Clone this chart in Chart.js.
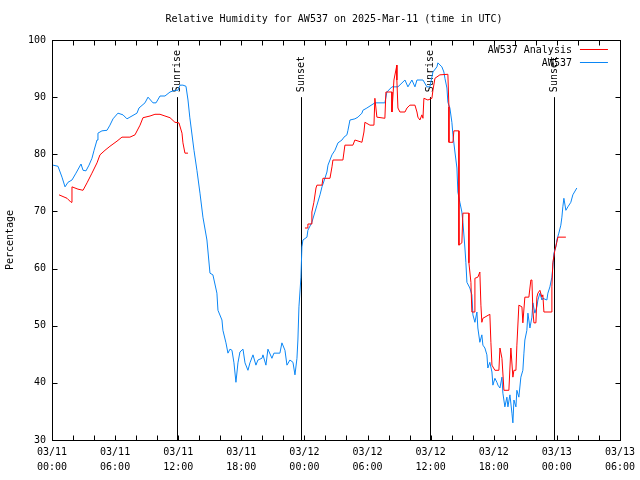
<!DOCTYPE html>
<html lang="en">
  <head>
    <meta charset="UTF-8" />
    <title>Relative Humidity for AW537</title>
    <script src="https://cdn.jsdelivr.net/npm/chart.js@4.4.1/dist/chart.umd.min.js"></script>
    <style>
      body { margin: 0; background: #fff; }
    </style>
  </head>
  <body>
    <canvas id="myChart" width="640" height="480"></canvas>

    <script>
    // hours since 03/11 00:00 UTC
    const obsHours = [0.1, 0.57, 0.95, 1.24, 1.52, 1.9, 2.28, 2.76, 2.95, 3.23, 3.52, 3.8, 4.0, 4.28, 4.37, 4.75, 5.23, 5.51, 5.8, 6.27,
      6.75, 7.13, 7.41, 8.08, 8.27, 8.84, 9.13, 9.6, 9.89, 10.27, 10.74, 11.22, 11.69, 11.98, 12.17, 12.45, 12.74, 12.93, 13.1, 13.5,
      13.78, 14.07, 14.35, 14.73, 15.02, 15.3, 15.68, 15.78, 16.16, 16.25, 16.54, 16.73, 16.92, 17.11, 17.3, 17.49, 17.68, 17.87, 18.16, 18.35,
      18.63, 18.82, 19.11, 19.39, 19.58, 19.96, 20.06, 20.34, 20.53, 20.91, 21.1, 21.67, 21.86, 22.15, 22.34, 22.62, 22.91, 23.1, 23.29, 23.38,
      23.48, 23.67, 23.76, 23.86, 24.24, 24.33, 24.71, 25.0, 25.19, 25.48, 25.67, 25.95, 26.14, 26.24, 26.62, 26.9, 27.19, 27.57, 27.76, 28.04,
      28.14, 28.33, 28.8, 29.09, 29.47, 29.56, 29.94, 30.7, 31.65, 31.84, 32.32, 32.89, 33.56, 33.84, 34.22, 34.51, 34.7, 35.27, 35.65, 35.93,
      36.22, 36.6, 36.69, 37.07, 37.26, 37.36, 37.55, 37.64, 37.83, 38.02, 38.12, 38.31, 38.5, 38.59, 38.78, 38.97, 39.07, 39.26, 39.35, 39.45,
      39.73, 39.92, 40.02, 40.21, 40.4, 40.49, 40.68, 40.87, 40.97, 41.16, 41.35, 41.44, 41.63, 41.83, 41.92, 42.11, 42.3, 42.4, 42.59, 42.78,
      42.87, 43.06, 43.25, 43.35, 43.54, 43.73, 43.82, 43.92, 44.11, 44.2, 44.39, 44.58, 44.77, 44.87, 44.96, 45.15, 45.25, 45.44, 45.63, 45.72,
      45.91, 46.1, 46.2, 46.39, 46.58, 46.67, 47.05, 47.15, 47.34, 47.53, 47.62, 47.72, 47.91, 48.0, 48.19, 48.38, 48.48, 48.57, 48.67, 48.86,
      49.05, 49.33, 49.52, 49.9];
    const obsValues = [78.1, 77.9, 76.0, 74.3, 75.1, 75.5, 76.7, 78.3, 77.2, 77.1, 78.1, 79.3, 80.7, 82.5, 83.7, 84.1, 84.2, 85.1, 86.2, 87.2,
      86.9, 86.2, 86.5, 87.2, 88.1, 89.0, 90.0, 89.0, 89.0, 90.2, 90.2, 90.9, 91.2, 91.2, 92.1, 92.1, 91.9, 89.5, 86.5, 80.7,
      77.2, 73.2, 69.0, 65.0, 59.2, 58.9, 55.7, 52.7, 51.0, 49.2, 47.0, 45.2, 45.9, 45.7, 43.5, 40.1, 43.5, 45.4, 45.9, 43.5,
      42.2, 43.5, 44.9, 43.1, 44.0, 44.3, 44.9, 43.1, 45.9, 44.3, 45.2, 45.2, 47.0, 45.7, 43.1, 44.0, 43.6, 41.4, 44.3, 47.5,
      53.3, 58.5, 63.8, 65.0, 65.5, 66.7, 68.1, 69.9, 71.1, 72.9, 74.3, 75.8, 76.9, 78.1, 79.9, 80.7, 82.0, 82.5, 83.0, 83.4,
      84.2, 86.0, 86.2, 86.5, 87.2, 87.7, 88.1, 89.0, 89.0, 90.9, 91.8, 91.8, 93.0, 91.8, 93.0, 91.8, 93.0, 93.0, 91.8, 91.8,
      94.4, 95.3, 96.0, 95.3, 94.4, 93.3, 91.6, 89.1, 88.1, 85.6, 83.4, 80.4, 77.6, 73.4, 71.6, 69.9, 68.1, 63.6, 61.1, 57.6,
      56.6, 55.4, 51.9, 50.6, 52.4, 49.6, 47.1, 48.4, 46.6, 46.1, 44.9, 42.6, 43.6, 41.9, 39.6, 40.8, 40.1, 39.6, 39.1, 41.0,
      38.2, 35.8, 37.5, 35.8, 37.9, 34.7, 33.0, 37.0, 35.8, 38.7, 37.5, 41.0, 42.2, 45.2, 47.5, 49.2, 52.2, 49.6, 51.5, 54.0,
      52.2, 53.3, 54.5, 55.7, 54.5, 54.8, 54.5, 55.7, 56.8, 58.5, 60.3, 62.7, 63.8, 65.0, 66.2, 67.6, 69.0, 70.8, 72.3, 70.2,
      70.8, 71.6, 72.9, 74.1];

    const anaHours = [0.67, 1.43, 1.81, 1.9, 2.47, 2.95, 3.33, 3.8, 4.28, 4.56, 5.04, 5.51, 6.18, 6.65, 7.41, 7.89, 8.37, 8.65, 9.32, 9.79,
      10.27, 10.74, 11.22, 11.69, 12.07, 12.36, 12.45, 12.64, 12.93, 18,
      24.05, 24.33, 24.33, 24.71, 24.71, 24.9, 25.1, 25.19, 25.67, 25.76, 26.43, 26.62, 26.71, 27.66, 27.85, 28.61, 28.8, 29.47, 29.66, 29.75,
      30.23, 30.61, 30.7, 30.89, 31.65, 31.75, 32.32, 32.32, 32.51, 32.79, 32.79, 32.89, 33.08, 33.56, 33.75, 34.03, 34.51, 34.7, 34.79, 34.98,
      35.17, 35.27, 35.36, 35.74, 36.12, 36.22, 36.41, 36.88, 37.64, 37.74, 37.74, 38.12, 38.21, 38.69, 38.69, 38.97, 39.07, 39.64, 39.64, 39.83,
      39.92, 40.21, 40.21, 40.49, 40.68, 40.78, 40.87, 40.97, 41.63, 41.73, 41.83, 42.11, 42.49, 42.59, 42.78, 42.97, 43.44, 43.63, 43.82, 43.92,
      44.11, 44.2, 44.39, 44.68, 44.77, 44.96, 45.34, 45.53, 45.63, 45.72, 45.82, 46.01, 46.1, 46.2, 46.39, 46.58, 46.67, 46.77, 47.53, 47.53,
      47.62, 47.81, 48.0, 48.1, 48.86];
    const anaValues = [72.9, 72.3, 71.6, 74.3, 73.9, 73.7, 75.0, 76.7, 78.5, 79.9, 80.7, 81.4, 82.3, 83.0, 83.0, 83.4, 85.1, 86.4, 86.7, 87.0,
      87.0, 86.7, 86.4, 85.6, 85.5, 83.7, 82.0, 80.2, 80.2, null,
      67.1, 67.1, 67.8, 67.8, 69.9, 71.6, 74.1, 74.6, 74.6, 75.8, 75.8, 77.8, 79.0, 79.0, 81.6, 81.6, 82.5, 82.1, 83.9, 85.6,
      85.1, 85.1, 89.8, 86.5, 86.3, 90.9, 90.9, 87.4, 93.0, 95.6, 93.0, 88.1, 87.4, 87.4, 88.1, 88.6, 88.6, 87.4, 86.5, 86.0,
      86.9, 86.3, 89.8, 89.5, 89.8, 91.2, 93.3, 93.9, 94.0, 88.3, 82.1, 82.1, 84.1, 84.1, 64.1, 64.5, 69.7, 69.7, 61.0, 57.6,
      52.4, 52.4, 58.3, 58.5, 59.4, 53.6, 50.6, 51.3, 52.0, 47.1, 43.1, 42.2, 42.2, 46.1, 44.3, 38.7, 38.7, 46.1, 41.0, 42.2,
      42.2, 46.6, 53.6, 53.3, 50.5, 55.0, 55.0, 58.0, 58.0, 52.7, 50.5, 50.5, 55.0, 55.7, 56.2, 55.0, 55.4, 52.4, 52.4, 56.8,
      61.0, 63.2, 64.6, 65.5, 65.5];

    const xTickLabels = [['03/11', '00:00'], ['03/11', '06:00'], ['03/11', '12:00'], ['03/11', '18:00'], ['03/12', '00:00'],
      ['03/12', '06:00'], ['03/12', '12:00'], ['03/12', '18:00'], ['03/13', '00:00'], ['03/13', '06:00']];
    const sunHours = [11.88, 23.67, 35.93, 47.72];
    const sunLabels = ['Sunrise', 'Sunset', 'Sunrise', 'Sunset'];

    const FONT = '10px "DejaVu Sans Mono", monospace';

    // gnuplot-ish decorations: frame, inward tics, sun markers, title, key
    const gnuplotLook = {
      id: 'gnuplotLook',
      beforeDatasetsDraw(chart) {
        const {ctx, chartArea: a, scales} = chart;
        ctx.save();
        ctx.strokeStyle = '#000';
        ctx.lineWidth = 1;
        ctx.fillStyle = '#000';
        ctx.font = FONT;
        const y90 = scales.y.getPixelForValue(90);
        sunHours.forEach((h, i) => {
          const x = Math.round(scales.x.getPixelForValue(h)) + 0.5;
          ctx.beginPath();
          ctx.moveTo(x, y90);
          ctx.lineTo(x, a.bottom);
          ctx.stroke();
          ctx.save();
          ctx.translate(x, y90 - 5);
          ctx.rotate(-Math.PI / 2);
          ctx.textAlign = 'left';
          ctx.textBaseline = 'middle';
          ctx.fillText(sunLabels[i], 0, 0);
          ctx.restore();
        });
        ctx.restore();
      },
      afterDraw(chart) {
        const {ctx, chartArea: a, scales} = chart;
        ctx.save();
        ctx.strokeStyle = '#000';
        ctx.lineWidth = 1;
        const L = Math.round(a.left) + 0.5, R = Math.round(a.right) + 0.5;
        const T = Math.round(a.top) + 0.5, B = Math.round(a.bottom) + 0.5;
        ctx.strokeRect(L, T, R - L, B - T);
        ctx.beginPath();
        scales.x.ticks.forEach(t => {
          const x = Math.round(scales.x.getPixelForValue(t.value)) + 0.5;
          ctx.moveTo(x, B); ctx.lineTo(x, B - 5);
          ctx.moveTo(x, T); ctx.lineTo(x, T + 5);
        });
        scales.y.ticks.forEach(t => {
          const y = Math.round(scales.y.getPixelForValue(t.value)) + 0.5;
          ctx.moveTo(L, y); ctx.lineTo(L + 5, y);
          ctx.moveTo(R, y); ctx.lineTo(R - 5, y);
        });
        ctx.stroke();

        ctx.fillStyle = '#000';
        ctx.font = FONT;
        ctx.textAlign = 'center';
        ctx.textBaseline = 'middle';
        ctx.fillText('Relative Humidity for AW537 on 2025-Mar-11 (time in UTC)', (a.left + a.right) / 2 - 2, 19);

        ctx.textAlign = 'right';
        chart.data.datasets.forEach((ds, i) => {
          const y = a.top + 10 + i * 13;
          ctx.fillStyle = '#000';
          ctx.fillText(ds.label, a.right - 48, y);
          ctx.strokeStyle = ds.borderColor;
          ctx.beginPath();
          ctx.moveTo(a.right - 40, Math.round(y) - 0.5);
          ctx.lineTo(a.right - 12, Math.round(y) - 0.5);
          ctx.stroke();
        });
        ctx.restore();
      }
    };

    const toPoints = (xs, ys) => xs.map((h, i) => ({x: h, y: ys[i]}));

    const ctx = document.getElementById('myChart').getContext('2d');
    const myChart = new Chart(ctx, {
      type: 'line',
      data: {
        datasets: [{
          label: 'AW537 Analysis',
          data: toPoints(anaHours, anaValues),
          borderColor: '#ff0000',
          borderWidth: 1,
          pointRadius: 0,
          spanGaps: false
        }, {
          label: 'AW537',
          data: toPoints(obsHours, obsValues),
          borderColor: '#0a86f5',
          borderWidth: 1,
          pointRadius: 0
        }]
      },
      options: {
        responsive: false,
        animation: false,
        layout: {padding: {top: 40, right: 18, left: 0, bottom: 0}},
        plugins: {legend: {display: false}, title: {display: false}, tooltip: {enabled: false}},
        scales: {
          x: {
            type: 'linear',
            min: 0,
            max: 54,
            grid: {display: false, drawTicks: false},
            border: {display: false},
            afterFit: s => { s.height = 40; },
            ticks: {
              stepSize: 2,
              autoSkip: false,
              maxRotation: 0,
              padding: 5,
              color: '#000',
              font: {family: '"DejaVu Sans Mono", monospace', size: 10, lineHeight: 1.5},
              callback: v => (v % 6 === 0 ? xTickLabels[v / 6] : '')
            }
          },
          y: {
            min: 30,
            max: 100,
            grid: {display: false, drawTicks: false},
            border: {display: false},
            afterFit: s => { s.width = 52; },
            title: {
              display: true,
              text: 'Percentage',
              color: '#000',
              padding: {top: 4, bottom: 0},
              font: {family: '"DejaVu Sans Mono", monospace', size: 10}
            },
            ticks: {
              stepSize: 10,
              padding: 6,
              color: '#000',
              font: {family: '"DejaVu Sans Mono", monospace', size: 10}
            }
          }
        }
      },
      plugins: [gnuplotLook]
    });
    </script>
  </body>
</html>
